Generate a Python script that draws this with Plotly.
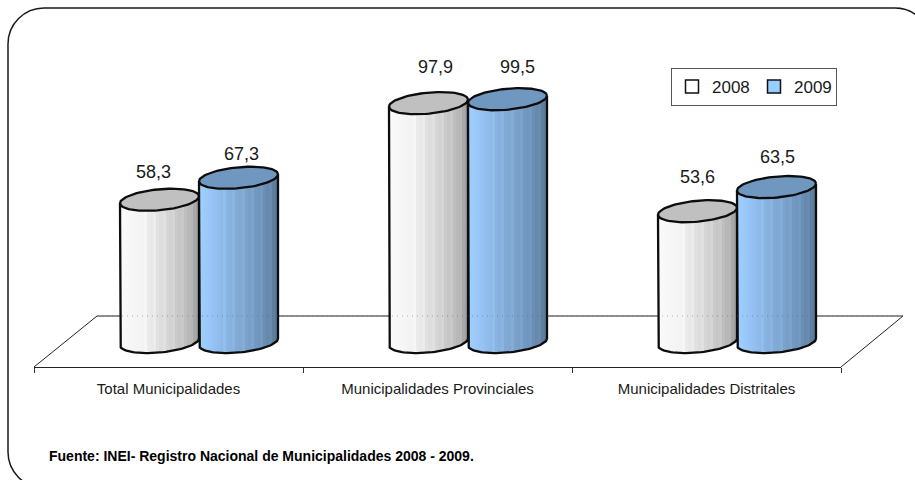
import numpy as np
import plotly.graph_objects as go

# ---- data ----
categories = ["Total Municipalidades", "Municipalidades Provinciales", "Municipalidades Distritales"]
series_names = ["2008", "2009"]
values_2008 = [58.3, 97.9, 53.6]
values_2009 = [67.3, 99.5, 63.5]
source_text = "Fuente: INEI- Registro Nacional de Municipalidades 2008 - 2009."

# ---- label nudges, in pixels (x, y-up) ----
nudge_2008 = [(-6, 28), (7, 36), (0, 34)]
nudge_2009 = [(3, 24), (10, 32), (1, 30)]

# ---- geometry and style ----
W, H = 915, 480
FRONT_L, FRONT_R, FRONT_Y = 34, 841, 367
BACK_L, BACK_R, BACK_Y = 97, 903, 316
CAT_PX = (FRONT_R - FRONT_L) / 3
BASE_Y_PX = 342
PX_PER_UNIT = 2.44
R_PX = 39.5
B_PX = 10.5
TILT_PX = 3.5
PAIR_SHIFT_PX = 30.5
FONT = "Liberation Sans"
TXT = "#1a1a1a"
STROKE = 2.3

x_range = [-FRONT_L / CAT_PX, (W - FRONT_L) / CAT_PX]
y_range = [-(H - BASE_Y_PX) / PX_PER_UNIT, BASE_Y_PX / PX_PER_UNIT]
r = R_PX / CAT_PX
b = B_PX / PX_PER_UNIT
tilt = TILT_PX / PX_PER_UNIT
shift = PAIR_SHIFT_PX / CAT_PX

ramps = {
    "2008": {"stops": [(0, "#fbfbfb"), (0.28, "#f4f4f4"), (0.6, "#d6d6d6"), (0.85, "#bcbcbc"), (1, "#9c9c9c")],
             "cap": "#c0c0c0", "swatch": "#ffffff"},
    "2009": {"stops": [(0, "#a0d0ff"), (0.12, "#99c8fa"), (0.45, "#84aed9"), (0.8, "#6d92b9"), (1, "#587896")],
             "cap": "#7097bf", "swatch": "#99ccff"},
}


def hex2rgb(h):
    return np.array([int(h[i:i + 2], 16) for i in (1, 3, 5)], float)


def ramp_color(stops, u, lift=0):
    ts = [s[0] for s in stops]
    cols = np.array([hex2rgb(s[1]) for s in stops])
    c = [min(255, np.interp(u, ts, cols[:, k]) + lift) for k in range(3)]
    return "rgb(%d,%d,%d)" % tuple(c)


def cylinder_traces(cx, val, style, xa, ya):
    n = 26
    u = (np.arange(n) + 0.5) / n
    xs = cx - r + 2 * r * u
    dx = (xs - cx) / r
    arc = np.sqrt(np.clip(1 - dx ** 2, 0, 1))
    bottom = tilt * dx - b * arc
    top = val + tilt * dx + b * arc
    # faint lighter facets, as in the stepped gradient of the original
    colors = [ramp_color(style["stops"], t, 7 if (k % 3 == 2 and t > 0.3) else 0) for k, t in enumerate(u)]
    body = go.Bar(x=xs, y=top - bottom, base=bottom, width=2 * r / n * 1.02,
                  marker=dict(color=colors, line=dict(width=0)),
                  xaxis=xa, yaxis=ya, showlegend=False, hoverinfo="skip")
    t = np.linspace(0, 2 * np.pi, 90)
    ex = cx + r * np.cos(t)
    ey = val + tilt * np.cos(t) + b * np.sin(t)
    cap = go.Scatter(x=ex, y=ey, mode="lines", fill="toself", fillcolor=style["cap"],
                     line=dict(color="#0d0d0d", width=STROKE), xaxis=xa, yaxis=ya,
                     showlegend=False, hoverinfo="skip")
    t2 = np.linspace(np.pi, 2 * np.pi, 50)
    ox = np.concatenate([[cx - r], cx + r * np.cos(t2), [cx + r]])
    oy = np.concatenate([[val - tilt], tilt * np.cos(t2) + b * np.sin(t2), [val + tilt]])
    outline = go.Scatter(x=ox, y=oy, mode="lines", line=dict(color="#0d0d0d", width=STROKE),
                         xaxis=xa, yaxis=ya, showlegend=False, hoverinfo="skip")
    return [body, cap, outline]


fig = go.Figure()

# category axis holder
fig.add_trace(go.Scatter(x=categories, y=[0, 0, 0], mode="markers", marker=dict(opacity=0),
                         xaxis="x", yaxis="y", showlegend=False, hoverinfo="skip"))

annotations = []
for name, vals, nudges, xa, ya, sign in [
    ("2008", values_2008, nudge_2008, "x2", "y2", -1),
    ("2009", values_2009, nudge_2009, "x3", "y3", 1),
]:
    for i, v in enumerate(vals):
        cx = i + 0.5 + shift + sign * r
        for tr in cylinder_traces(cx, v, ramps[name], xa, ya):
            fig.add_trace(tr)
        annotations.append(dict(x=cx, y=v, xref=xa, yref=ya, text=f"{v:.1f}".replace(".", ","),
                                showarrow=False, xshift=nudges[i][0], yshift=nudges[i][1],
                                font=dict(family=FONT, size=18, color=TXT)))

# dotted back wall line showing through the cylinders
fig.add_trace(go.Scatter(x=[(BACK_L - FRONT_L) / CAT_PX, (BACK_R - FRONT_L) / CAT_PX],
                         y=[(BASE_Y_PX - BACK_Y) / PX_PER_UNIT] * 2, mode="lines",
                         line=dict(color="rgba(90,90,90,0.45)", width=1, dash="1px 4px"),
                         xaxis="x3", yaxis="y3", showlegend=False, hoverinfo="skip"))

# legend entries
for name in series_names:
    fig.add_trace(go.Scatter(x=[None], y=[None], name=name, mode="markers",
                             marker=dict(symbol="square", size=13, color=ramps[name]["swatch"],
                                         line=dict(color="#111111", width=1.5)),
                             xaxis="x3", yaxis="y3", hoverinfo="skip"))

annotations.append(dict(x=47 / W, y=1 - 456 / H, xref="paper", yref="paper", xanchor="left", yanchor="middle",
                        text=f"<b>{source_text}</b>", showarrow=False,
                        font=dict(family=FONT, size=14, color="#000000")))


def px(x):
    return x / W


def py(y):
    return 1 - y / H


shapes = [
    dict(type="line", xref="paper", yref="paper", x0=px(a), y0=py(c), x1=px(e), y1=py(f),
         line=dict(color="#222222", width=1), layer="below")
    for a, c, e, f in [(FRONT_L, FRONT_Y, BACK_L, BACK_Y), (BACK_L, BACK_Y, BACK_R, BACK_Y),
                       (BACK_R, BACK_Y, FRONT_R, FRONT_Y)]
]
frame_l, frame_t, frame_r, frame_b, rad = 8, 8, 931, 488, 36
k = rad * 0.45  # control distance approximating a circular corner
shapes.append(dict(type="path", xref="paper", yref="paper", layer="below",
                   line=dict(color="#1a1a1a", width=1.5),
                   path=(f"M {px(frame_l)} {py(frame_t + rad)} "
                         f"C {px(frame_l)} {py(frame_t + k)} {px(frame_l + k)} {py(frame_t)} {px(frame_l + rad)} {py(frame_t)} "
                         f"L {px(frame_r - rad)} {py(frame_t)} "
                         f"C {px(frame_r - k)} {py(frame_t)} {px(frame_r)} {py(frame_t + k)} {px(frame_r)} {py(frame_t + rad)} "
                         f"L {px(frame_r)} {py(frame_b - rad)} "
                         f"C {px(frame_r)} {py(frame_b - k)} {px(frame_r - k)} {py(frame_b)} {px(frame_r - rad)} {py(frame_b)} "
                         f"L {px(frame_l + rad)} {py(frame_b)} "
                         f"C {px(frame_l + k)} {py(frame_b)} {px(frame_l)} {py(frame_b - k)} {px(frame_l)} {py(frame_b - rad)} Z")))

hidden = dict(visible=False, fixedrange=True, showgrid=False, zeroline=False)
fig.update_layout(
    width=W, height=H, margin=dict(l=0, r=0, t=0, b=0, pad=0, autoexpand=False),
    paper_bgcolor="white", plot_bgcolor="rgba(0,0,0,0)", barmode="overlay", bargap=0,
    font=dict(family=FONT, color=TXT),
    xaxis=dict(type="category", categoryorder="array", categoryarray=categories,
               domain=[FRONT_L / W, FRONT_R / W], range=[-0.5, 2.5], anchor="y",
               tickson="boundaries", ticks="outside", ticklen=5, tickcolor="#333333",
               showline=True, linecolor="#222222", linewidth=1, showgrid=False, fixedrange=True,
               ticklabelstandoff=8, tickfont=dict(family=FONT, size=15, color=TXT)),
    yaxis=dict(domain=[(H - FRONT_Y) / H, 1], range=[0, 1], anchor="x", **hidden),
    xaxis2=dict(domain=[0, 1], range=x_range, anchor="y2", **hidden),
    yaxis2=dict(domain=[0, 1], range=y_range, anchor="x2", **hidden),
    xaxis3=dict(domain=[0, 1], range=x_range, anchor="y3", **hidden),
    yaxis3=dict(domain=[0, 1], range=y_range, anchor="x3", **hidden),
    legend=dict(orientation="h", x=671 / W, y=1 - 68 / H, xanchor="left", yanchor="top",
                bgcolor="white", bordercolor="#555555", borderwidth=1,
                font=dict(family=FONT, size=17, color=TXT), itemwidth=30,
                entrywidth=37, entrywidthmode="pixels"),
    annotations=annotations, shapes=shapes, hovermode=False, showlegend=True,
)

fig.write_html("out.html", config=dict(displayModeBar=False, staticPlot=True),
               post_script="document.body.style.margin='0';")
